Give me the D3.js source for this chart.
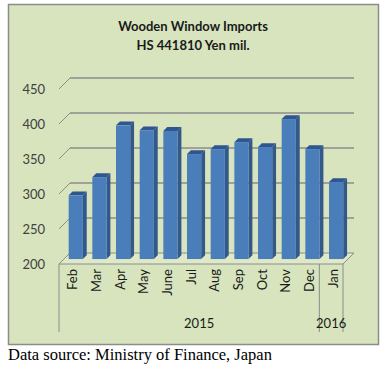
<!DOCTYPE html>
<html>
<head>
<meta charset="utf-8">
<script src="https://cdn.jsdelivr.net/npm/d3@7"></script>
<style>
  body { margin: 0; background: #fff; }
  svg { display: block; }
</style>
</head>
<body>
<div id="chart"></div>
<script>

var width = 387;
var height = 372;

// data
var months = ["Feb", "Mar", "Apr", "May", "June", "Jul", "Aug", "Sep", "Oct", "Nov", "Dec", "Jan"];
var imports = [291, 317, 391, 384, 383, 350, 357, 367, 360, 400, 357, 310];
var years = ["2015", "2016"];
var yearSpan = [11, 1]; // months per year group
var yTicks = [200, 250, 300, 350, 400, 450];

// 3d look: depth offset of the back wall
var depth = 11;
var front = {left: 59, right: 343, bottom: 264};

var svg = d3.select("#chart").append("svg")
	.attr("width", width)
	.attr("height", height);

// panel
svg.append("rect")
	.attr("x", 8.5).attr("y", 4.5)
	.attr("width", 370).attr("height", 340)
	.attr("fill", "#d7e4bd")
	.attr("stroke", "#8c8c8c")
	.attr("stroke-width", 1.5);

svg.append("text")
	.attr("x", 193).attr("y", 31)
	.attr("text-anchor", "middle")
	.style("font", "bold 13px Lato")
	.attr("fill", "#1a1a1a")
	.text("Wooden Window Imports");
svg.append("text")
	.attr("x", 193).attr("y", 50)
	.attr("text-anchor", "middle")
	.style("font", "bold 13px Lato")
	.attr("fill", "#1a1a1a")
	.text("HS 441810 Yen mil.");

// scales (front plane)
var y = d3.scaleLinear()
	.domain([200, 450])
	.range([front.bottom, front.bottom - 175]);

var x = d3.scaleBand()
	.domain(months)
	.range([front.left, front.right])
	.paddingInner(0.4)
	.paddingOuter(0.2);

// project a point at depth d (0 = front, 1 = back)
function px(xv, d) { return xv + d * depth; }
function py(yv, d) { return yv - d * depth; }

// floor
svg.append("path")
	.attr("d", "M" + front.left + "," + front.bottom
		+ "L" + px(front.left, 1) + "," + py(front.bottom, 1)
		+ "L" + px(front.right, 1) + "," + py(front.bottom, 1)
		+ "L" + front.right + "," + front.bottom + "Z")
	.attr("fill", "#dfe9c8")
	.attr("stroke", "#8c8c8c")
	.attr("stroke-width", 1);

// gridlines on back wall + side diagonals
var grid = svg.append("g").attr("class", "grid");
yTicks.forEach(function(t) {
	if (t > 200) {
		grid.append("line")
			.attr("x1", px(front.left, 1)).attr("y1", py(y(t), 1))
			.attr("x2", px(front.right, 1)).attr("y2", py(y(t), 1))
			.attr("stroke", "#8c8c8c").attr("stroke-width", 1.5);
		grid.append("line")
			.attr("x1", front.left).attr("y1", y(t))
			.attr("x2", px(front.left, 1)).attr("y2", py(y(t), 1))
			.attr("stroke", "#8c8c8c").attr("stroke-width", 1);
	}
	grid.append("text")
		.attr("x", 45).attr("y", y(t))
		.attr("dy", "0.35em")
		.attr("text-anchor", "end")
		.style("font", "13px Lato")
		.attr("fill", "#404040")
		.text(t);
});

// bars
var dFront = 0.45, dBack = 0.8;
var bars = svg.append("g").attr("class", "bars")
	.selectAll("g")
	.data(months.map(function(m, i) { return {month: m, value: imports[i]}; }))
	.enter().append("g");

bars.each(function(d) {
	var g = d3.select(this);
	var x0 = px(x(d.month), dFront), x1 = x0 + x.bandwidth();
	var yb = py(y(200), dFront), yt = py(y(d.value), dFront);
	var off = (dBack - dFront) * depth;
	// side
	g.append("path")
		.attr("d", "M" + x1 + "," + yb + "L" + (x1 + off) + "," + (yb - off)
			+ "L" + (x1 + off) + "," + (yt - off) + "L" + x1 + "," + yt + "Z")
		.attr("fill", "#33598a");
	// top
	g.append("path")
		.attr("d", "M" + x0 + "," + yt + "L" + (x0 + off) + "," + (yt - off)
			+ "L" + (x1 + off) + "," + (yt - off) + "L" + x1 + "," + yt + "Z")
		.attr("fill", "#2f5690");
	// front
	g.append("rect")
		.attr("x", x0).attr("y", yt)
		.attr("width", x.bandwidth()).attr("height", yb - yt)
		.attr("fill", "#4a7ebb");
});

// category labels
svg.append("g").selectAll("text")
	.data(months)
	.enter().append("text")
	.attr("transform", function(d) {
		return "translate(" + (x(d) + x.bandwidth() / 2 + 2) + "," + (front.bottom + 5) + ") rotate(-90)";
	})
	.attr("dy", "0.35em")
	.attr("text-anchor", "end")
	.style("font", "13px Lato")
	.attr("fill", "#1a1a1a")
	.text(function(d) { return d; });

// year groups
var step = x.step();
var edges = [front.left];
var acc = 0;
yearSpan.forEach(function(n) { acc += n; edges.push(front.left + acc * step); });
edges[edges.length - 1] = front.right;
edges.forEach(function(e) {
	svg.append("line")
		.attr("x1", e).attr("y1", front.bottom)
		.attr("x2", e).attr("y2", 332)
		.attr("stroke", "#8c8c8c").attr("stroke-width", 1);
});
years.forEach(function(yr, i) {
	svg.append("text")
		.attr("x", (edges[i] + edges[i + 1]) / 2 + (i == 1 ? 0 : 10))
		.attr("y", 328)
		.attr("text-anchor", "middle")
		.style("font", "13px Lato")
		.attr("fill", "#1a1a1a")
		.text(yr);
});

svg.append("text")
	.attr("x", 8).attr("y", 360)
	.style("font", "16.5px 'Liberation Serif'")
	.attr("fill", "#000")
	.text("Data source: Ministry of Finance, Japan");

</script>
</body>
</html>
